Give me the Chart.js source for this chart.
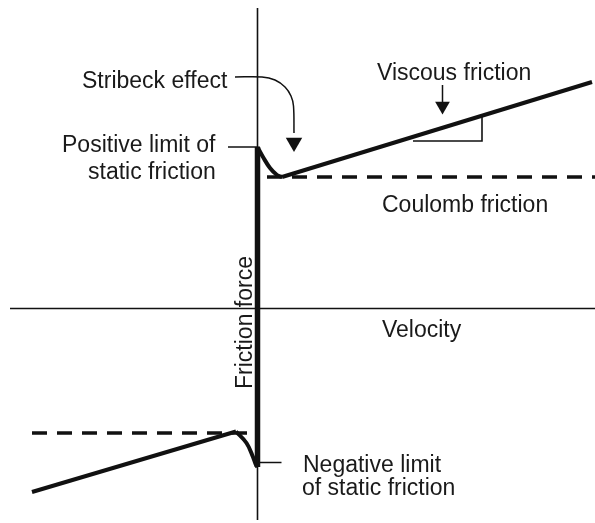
<!DOCTYPE html>
<html>
<head>
<meta charset="utf-8">
<script src="https://cdn.jsdelivr.net/npm/chart.js@4/dist/chart.umd.min.js"></script>
<style>
  html, body { margin: 0; padding: 0; background: #ffffff; }
  #wrap { width: 595px; height: 523px; }
</style>
</head>
<body>
<div id="wrap"><canvas id="c" width="595" height="523"></canvas></div>
<script>
// ---- Data (velocity, friction force), arbitrary units ----
const velocityAxisV = [-24.75, 33.75];
const velocityAxisF = [0, 0];
const forceAxisV = [0, 0];
const forceAxisF = [-21.15, 30.05];

const staticV = [0, 0];
const staticF = [-15.85, 16.15];

const posStribeckV = [0, 0.55, 1.25, 1.95, 2.45];
const posStribeckF = [16.15, 15.15, 14.05, 13.35, 13.15];
const posViscousV = [2.45, 33.45];
const posViscousF = [13.15, 22.65];

const negViscousV = [-22.55, -2.15];
const negViscousF = [-18.35, -12.3];
const negStribeckV = [-2.15, -1.1, -0.45, -0.15, 0];
const negStribeckF = [-12.3, -13.45, -14.85, -15.65, -15.85];

const posCoulombV = [0.95, 33.75];
const posCoulombF = [13.15, 13.15];
const negCoulombV = [-22.55, -0.2];
const negCoulombF = [-12.45, -12.45];

const slopeMarkV = [15.55, 22.45, 22.45];
const slopeMarkF = [16.75, 16.75, 19.2];

// Annotation leaders / arrows
const stribeckLeaderV = [-2.25, 0.45, 1.75, 2.75, 3.35, 3.6, 3.65];
const stribeckLeaderF = [23.15, 23.15, 22.85, 22.15, 21.25, 20.25, 17.55];
const stribeckHeadV = [3.65];
const stribeckHeadF = [16.6];
const viscousLeaderV = [18.5, 18.5];
const viscousLeaderF = [22.35, 20.6];
const viscousHeadV = [18.5];
const viscousHeadF = [20.25];
const posLimitLeaderV = [-2.95, 0];
const posLimitLeaderF = [16.15, 16.15];
const negLimitLeaderV = [0, 2.4];
const negLimitLeaderF = [-15.4, -15.4];

// Text labels
const labelTexts = ["Stribeck effect", "Viscous friction", "Positive limit of", "static friction",
  "Coulomb friction", "Velocity", "Negative limit", "of static friction", "Friction force"];
const labelV = [-17.55, 11.95, -19.55, -16.95, 12.45, 12.45, 4.55, 4.45, -0.55];
const labelF = [22.05, 22.85, 15.7, 13.0, 9.7, -2.8, -16.3, -18.65, -1.4];

// ---- helpers ----
const pts = (vs, fs) => vs.map((v, i) => ({ x: v, y: fs[i] }));
const INK = '#111111';
function line(vs, fs, width, extra) {
  return Object.assign({
    data: pts(vs, fs), showLine: true, borderColor: INK, backgroundColor: INK,
    borderWidth: width, pointRadius: 0, tension: 0, clip: false,
    borderCapStyle: 'butt', borderJoinStyle: 'miter'
  }, extra || {});
}
function head(vs, fs, r) {
  return {
    data: pts(vs, fs), showLine: false, pointStyle: 'triangle', rotation: 180,
    pointRadius: r, borderWidth: 0, backgroundColor: INK, borderColor: INK, clip: false
  };
}

const labelPlugin = {
  id: 'labels',
  afterDatasetsDraw(chart) {
    const { ctx, scales: { x, y } } = chart;
    ctx.save();
    ctx.fillStyle = '#1a1a1a';
    ctx.font = '23px "Liberation Sans", Arial, sans-serif';
    ctx.textBaseline = 'alphabetic';
    labelTexts.forEach((t, i) => {
      const px = x.getPixelForValue(labelV[i]);
      const py = y.getPixelForValue(labelF[i]);
      if (t === 'Friction force') {
        ctx.save();
        ctx.translate(px, py);
        ctx.rotate(-Math.PI / 2);
        ctx.textAlign = 'center';
        ctx.fillText(t, 0, 0);
        ctx.restore();
      } else {
        ctx.textAlign = 'left';
        ctx.fillText(t, px, py);
      }
    });
    ctx.restore();
  }
};

new Chart(document.getElementById('c'), {
  type: 'scatter',
  data: {
    datasets: [
      line(velocityAxisV, velocityAxisF, 1.6),
      line(forceAxisV, forceAxisF, 1.6),
      line(posCoulombV, posCoulombF, 3.5, { borderDash: [15, 10] }),
      line(negCoulombV, negCoulombF, 3.5, { borderDash: [15, 10] }),
      line(slopeMarkV, slopeMarkF, 1.6),
      line(staticV, staticF, 5.5),
      line(posStribeckV, posStribeckF, 4, { tension: 0.4 }),
      line(posViscousV, posViscousF, 4),
      line(negViscousV, negViscousF, 4),
      line(negStribeckV, negStribeckF, 4, { tension: 0.4 }),
      line(stribeckLeaderV, stribeckLeaderF, 1.5, { tension: 0.35 }),
      head(stribeckHeadV, stribeckHeadF, 9.5),
      line(viscousLeaderV, viscousLeaderF, 1.5),
      head(viscousHeadV, viscousHeadF, 8.5),
      line(posLimitLeaderV, posLimitLeaderF, 1.5),
      line(negLimitLeaderV, negLimitLeaderF, 1.5)
    ]
  },
  options: {
    responsive: false,
    devicePixelRatio: 1,
    animation: false,
    layout: { padding: 0, autoPadding: false },
    plugins: { legend: { display: false }, tooltip: { enabled: false } },
    scales: {
      x: { type: 'linear', display: false, min: -25.75, max: 33.75 },
      y: { type: 'linear', display: false, min: -21.45, max: 30.85 }
    }
  },
  plugins: [labelPlugin]
});
</script>
</body>
</html>
